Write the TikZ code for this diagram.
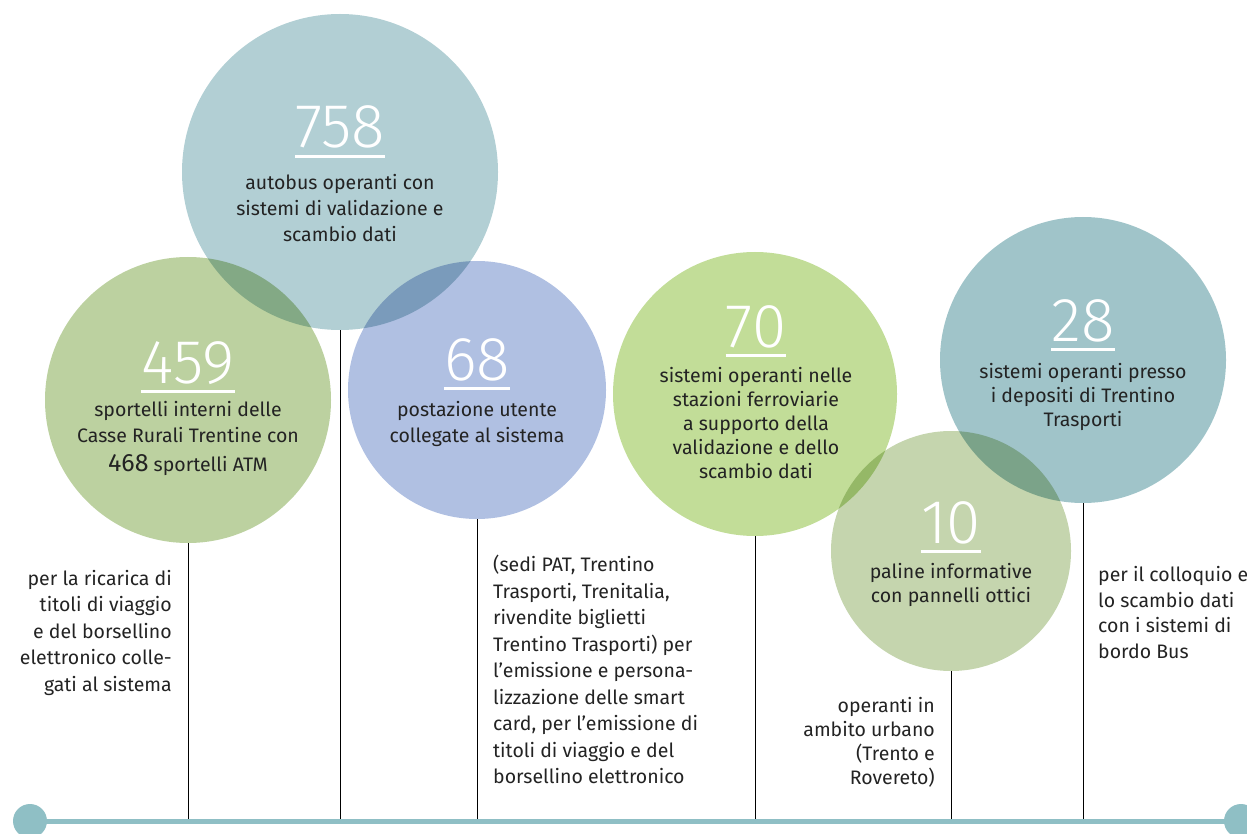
\documentclass[tikz,border=0pt]{standalone}
\usepackage{fontspec}
\setmainfont{Fira Sans}
\IfFontExistsTF{Fira Sans Light}{\newfontfamily\numfont{Fira Sans Light}}{\newfontfamily\numfont{Fira Sans}}
\usetikzlibrary{calc}
\definecolor{cBlue}{RGB}{178,207,212}
\definecolor{cGreen}{RGB}{188,209,160}
\definecolor{cLav}{RGB}{176,192,226}
\definecolor{cLime}{RGB}{194,221,152}
\definecolor{cTeal}{RGB}{160,196,201}
\definecolor{cSage}{RGB}{197,213,174}
\definecolor{cBar}{RGB}{143,191,197}
\definecolor{txt}{RGB}{35,35,35}
\tikzset{
  bubble/.style={circle, inner sep=0pt, draw=none, blend mode=multiply},
  num/.style={inner sep=0pt, text=white, font=\numfont\fontsize{62}{62}\selectfont, anchor=base},
  uline/.style={draw=white, line width=3pt},
  desc/.style={inner sep=0pt, text=txt, align=center, anchor=north, font=\fontsize{19.5}{26}\selectfont},
  descb/.style={inner sep=0pt, text=txt, align=center, anchor=north, font=\fontsize{19.5}{24}\selectfont},
  side/.style={inner sep=0pt, text=txt, font=\fontsize{19.5}{26.5}\selectfont},
  vline/.style={draw=black, line width=0.9pt},
  dot/.style={circle, fill=cBar, inner sep=0pt, minimum size=34pt},
}
\begin{document}
\begin{tikzpicture}[x=1pt,y=-1pt]
\useasboundingbox (0,0) rectangle (1247,834);
% bubbles
\node[bubble, fill=cBlue, minimum size=316pt] (c758) at (340,172) {};
\node[bubble, fill=cGreen, minimum size=286pt] (c459) at (188,400) {};
\node[bubble, fill=cLav, minimum size=258pt] (c68) at (477,390) {};
\node[bubble, fill=cLime, minimum size=284pt] (c70) at (755,394) {};
\node[bubble, fill=cTeal, minimum size=286pt] (c28) at (1083,360) {};
\node[bubble, fill=cSage, minimum size=240pt] (c10) at (951,551) {};
% bar dots
\node[dot] (dL) at (30,821) {};
\node[dot] (dR) at (1241,821) {};
% connectors
\foreach \c in {c758,c459,c68,c70,c28,c10}
  \draw[vline] (\c.south) -- (\c.south |- dL.center);
\draw[draw=cBar, line width=5pt] (dL.center) -- (dR.center);
% numbers
\node[num] (n758) at (340,148) {758};
\node[num] (n459) at (188,383) {459};
\node[num] (n68) at (477,380) {68};
\node[num] (n70) at (756,347) {70};
\node[num] (n28) at (1083,341) {28};
\node[num] (n10) at (951,543) {10};
\foreach \n in {n758,n459,n68,n70,n28,n10}
  \draw[uline] ([yshift=-8.5pt]\n.base west) -- ([yshift=-8.5pt]\n.base east);
% descriptions
\node[desc] (t758) at (340,174) {autobus operanti con\\sistemi di validazione e\\scambio dati};
\node[desc] (t459) at (188,401) {sportelli interni delle\\Casse Rurali Trentine con\\[3pt]{\fontsize{25}{25}\selectfont 468} sportelli ATM};
\node[desc] (t68) at (477,401) {postazione utente\\collegate al sistema};
\node[descb] (t70) at (756,367) {sistemi operanti nelle\\stazioni ferroviarie\\a supporto della\\validazione e dello\\scambio dati};
\node[descb] (t28) at (1083,363) {sistemi operanti presso\\i depositi di Trentino\\Trasporti};
\node[descb] (t10) at (951,563) {paline informative\\con pannelli ottici};
% side notes
\node[side, align=right, anchor=north east] (s459) at (172,570) {per la ricarica di\\titoli di viaggio\\e del borsellino\\elettronico colle-\\gati al sistema};
\node[side, align=left, anchor=north west] (s68) at (493,555) {(sedi PAT, Trentino\\Trasporti, Trenitalia,\\rivendite biglietti\\Trentino Trasporti) per\\l’emissione e persona-\\lizzazione delle smart\\card, per l’emissione di\\titoli di viaggio e del\\borsellino elettronico};
\node[side, align=right, anchor=north east, font=\fontsize{19.5}{24}\selectfont] (s10) at (935,697) {operanti in\\ambito urbano\\(Trento e\\Rovereto)};
\node[side, align=left, anchor=north west, font=\fontsize{19.5}{25.7}\selectfont] (s28) at (1098,566) {per il colloquio e\\lo scambio dati\\con i sistemi di\\bordo Bus};
\end{tikzpicture}
\end{document}
